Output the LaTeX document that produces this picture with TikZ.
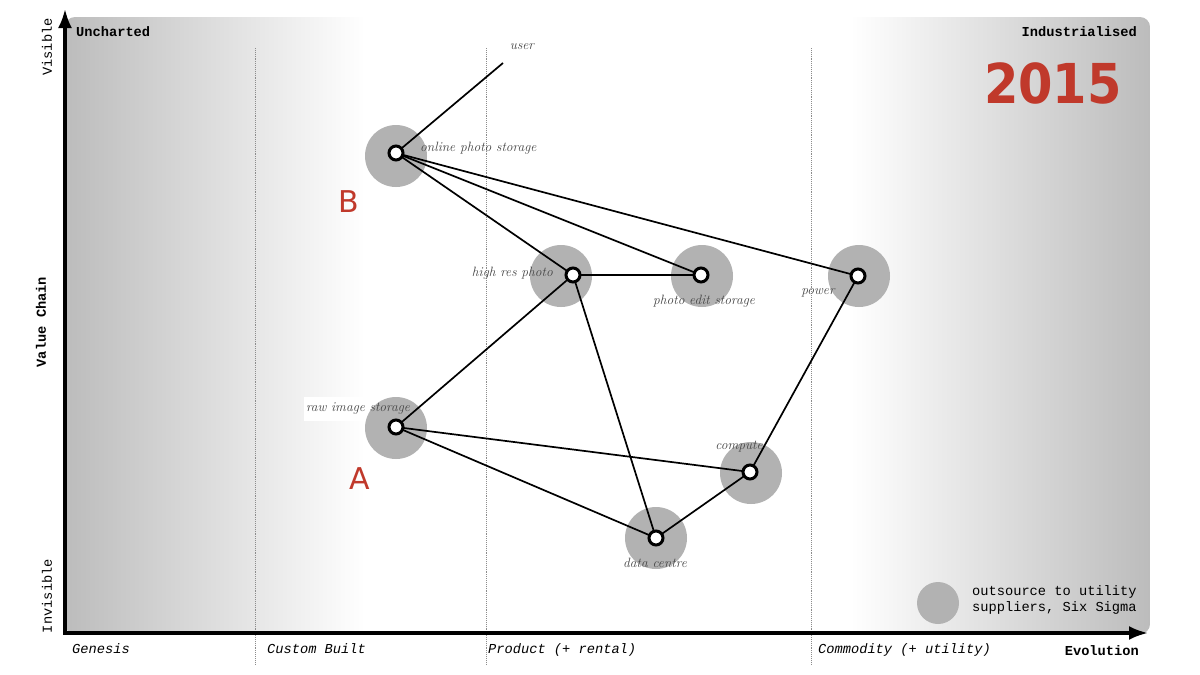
\documentclass[tikz,border=0pt]{standalone}
\usepackage{fontspec}
\setmonofont{Liberation Mono}
\newfontfamily\yearfont[FakeStretch=0.9]{DejaVu Sans}
\newfontfamily\letterfont{DejaVu Sans}
\usetikzlibrary{arrows.meta}
\definecolor{wred}{RGB}{192,57,43}
\definecolor{halo}{RGB}{178,178,178}
\definecolor{bgedge}{RGB}{188,188,188}
\definecolor{lbl}{RGB}{70,70,70}
\tikzset{
 comp/.style={circle, draw=black, line width=3pt, fill=white, minimum size=14pt, inner sep=0pt},
 haloc/.style={fill=halo, draw=none},
 link/.style={line width=1.7pt, black},
 axisline/.style={line width=3.2pt, -{Latex[length=19pt,width=14pt]}},
 mono/.style={font=\fontsize{13.7}{16}\selectfont\ttfamily, inner sep=0pt},
 monob/.style={font=\fontsize{13.7}{16}\selectfont\ttfamily\bfseries, inner sep=0pt},
 monoi/.style={font=\fontsize{13.7}{16}\selectfont\ttfamily\itshape, inner sep=0pt},
 tengw/.style={font=\fontsize{13.5}{15}\selectfont\itshape, text=lbl, inner sep=0pt},
 stage/.style={densely dotted, line width=0.9pt, black!45},
 bigletter/.style={font=\fontsize{30}{32}\selectfont\letterfont, text=wred, inner sep=0pt},
}
\begin{document}
\begin{tikzpicture}[x=1pt,y=-1pt]
\useasboundingbox (0,0) rectangle (1200,675);
% background panel
\begin{scope}
\clip[rounded corners=10pt] (65,17) rectangle (1150,634);
\fill[white] (65,17) rectangle (1150,634);
\shade[left color=bgedge, right color=white] (65,17) rectangle (365,634);
\shade[left color=white, right color=bgedge] (850,17) rectangle (1150,634);
\end{scope}
% stage separators
\draw[stage] (255,48) -- (255,665);
\draw[stage] (486,48) -- (486,665);
\draw[stage] (811,48) -- (811,665);
% axes
\coordinate (origin) at (65,633);
\coordinate (ytop) at (65,9);
\coordinate (xend) at (1148,633);
\draw[axisline] ([yshift=-1.6pt]origin) -- (ytop);
\draw[axisline] ([xshift=-1.6pt]origin) -- (xend);
% axis texts
\node[monob, anchor=base west] (unch) at (76,36) {Uncharted};
\node[monob, anchor=base east] (indu) at (1137,36) {Industrialised};
\node[monoi, anchor=base west] (gen) at (72,653) {Genesis};
\node[monoi, anchor=base west] (cust) at (267,653) {Custom Built};
\node[monoi, anchor=base west] (prod) at (488,653) {Product (+ rental)};
\node[monoi, anchor=base west] (comm) at (818,653) {Commodity (+ utility)};
\node[monob, anchor=base east] (evo) at (1139,655) {Evolution};
\node[mono, rotate=90] (vis) at (47,47) {Visible};
\node[monob, rotate=90] (vc) at (41,322) {Value Chain};
\node[mono, rotate=90] (invis) at (47,596) {Invisible};
% year
\node[font=\fontsize{55}{57}\selectfont\yearfont\bfseries, text=wred, inner sep=0pt, anchor=base east] (year) at (1122,103) {2015};
% legend
\fill[halo] (938,603) circle (21);
\node[mono, anchor=base west] (leg1) at (972,595) {outsource to utility};
\node[mono, anchor=base west] (leg2) at (972,611) {suppliers, Six Sigma};
% white label backing for A
\fill[white] (304,397) rectangle (368,421);
% halos
\fill[haloc] (396,156) circle (31);
\fill[haloc] (561,276) circle (31);
\fill[haloc] (702,276) circle (31);
\fill[haloc] (859,276) circle (31);
\fill[haloc] (396,428) circle (31);
\fill[haloc] (751,473) circle (31);
\fill[haloc] (656,538) circle (31);
% component positions
\coordinate (user) at (503,63);
\coordinate (store) at (396,153);
\coordinate (hires) at (573,275);
\coordinate (edit) at (701,275);
\coordinate (power) at (858,276);
\coordinate (raw) at (396,427);
\coordinate (compute) at (750,472);
\coordinate (dc) at (656,538);
% links
\draw[link] (store) -- (user);
\draw[link] (store) -- (hires);
\draw[link] (store) -- (edit);
\draw[link] (store) -- (power);
\draw[link] (hires) -- (edit);
\draw[link] (hires) -- (raw);
\draw[link] (hires) -- (dc);
\draw[link] (raw) -- (compute);
\draw[link] (raw) -- (dc);
\draw[link] (dc) -- (compute);
\draw[link] (compute) -- (power);
% components on top of links
\node[comp] (storen) at (store) {};
\node[comp] (hiresn) at (hires) {};
\node[comp] (editn) at (edit) {};
\node[comp] (powern) at (power) {};
\node[comp] (rawn) at (raw) {};
\node[comp] (computen) at (compute) {};
\node[comp] (dcn) at (dc) {};
% labels
\node[tengw] (userl) at (522,47) {user};
\node[tengw, anchor=west] (storel) at (420,148) {online photo storage};
\node[tengw, anchor=east] (hiresl) at (553,273) {high res photo};
\node[tengw] (editl) at (704,301) {photo edit storage};
\node[tengw] (powerl) at (818,293) {power};
\node[tengw] (rawl) at (358,408) {raw image storage};
\node[tengw] (computel) at (739,447) {compute};
\node[tengw] (dcl) at (655,563) {data centre};
% map letters
\node[bigletter, anchor=base] (B) at (349,212) {B};
\node[bigletter, anchor=base] (A) at (360,489) {A};
\end{tikzpicture}
\end{document}
